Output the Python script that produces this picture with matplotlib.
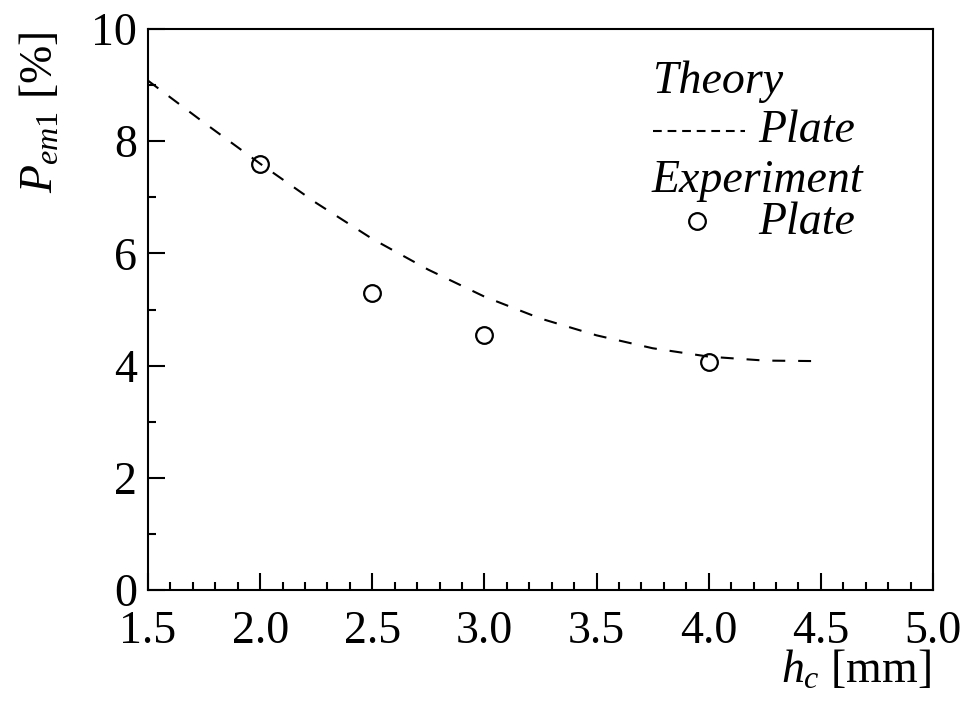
import numpy as np
import matplotlib
matplotlib.use('Agg')
import matplotlib.pyplot as plt

# Шрифти як у Times
plt.rcParams['font.family'] = ['Liberation Serif', 'DejaVu Serif']
plt.rcParams['mathtext.fontset'] = 'custom'
plt.rcParams['mathtext.rm'] = 'Liberation Serif'
plt.rcParams['mathtext.it'] = 'Liberation Serif:italic'

# Теоретична крива (пластина)
hc_theory = [1.5, 1.75, 2.0, 2.25, 2.5, 2.75, 3.0, 3.25, 3.5, 3.75, 4.0, 4.25, 4.5]
p_theory = [9.08, 8.33, 7.6, 6.9, 6.26, 5.71, 5.23, 4.84, 4.54, 4.31, 4.16, 4.09, 4.08]

# Експериментальні точки (пластина)
hc_exp = [2.0, 2.5, 3.0, 4.0]
p_exp = [7.6, 5.29, 4.55, 4.07]

xticks = [1.5, 2.0, 2.5, 3.0, 3.5, 4.0, 4.5, 5.0]
yticks = [0, 2, 4, 6, 8, 10]

fs = 33
fig = plt.figure(figsize=(9.68, 7.03), dpi=100)
ax = fig.add_axes([0.1529, 0.1607, 0.8109, 0.798])

ax.plot(hc_theory, p_theory, color='black', lw=1.5, dashes=(6.2, 6.2))
ax.plot(hc_exp, p_exp, 'o', mfc='none', mec='black', mew=1.6, ms=12)

ax.set_xlim(1.5, 5.0)
ax.set_ylim(0, 10)
ax.set_xticks(xticks)
ax.set_xticklabels([f'{v:.1f}' for v in xticks])
ax.set_yticks(yticks)
ax.set_xticks(np.arange(1.5, 5.0, 0.1), minor=True)
ax.set_yticks(np.arange(0, 10, 1), minor=True)

for s in ax.spines.values():
    s.set_linewidth(1.5)
ax.tick_params(which='both', direction='in', top=False, right=False, width=1.5)
ax.tick_params(which='major', length=12, labelsize=fs)
ax.tick_params(which='minor', length=6)
ax.tick_params(axis='x', which='major', pad=15)
ax.tick_params(axis='y', which='major', pad=8)

# Підписи осей
fig.text(0.042, 0.84, r'$P_{em1}$ [%]', rotation=90, fontsize=fs,
         ha='center', va='center')
fig.text(0.962, 0.045, r'$h_c$ [mm]', fontsize=fs, ha='right', va='center')

# Легенда вручну
t = ax.transAxes
ax.text(0.643, 0.906, 'Theory', style='italic', fontsize=fs, transform=t, va='center')
ax.plot([0.643, 0.761], [0.818, 0.818], color='black', lw=1.5, dashes=(4.2, 2.8),
        transform=t)
ax.text(0.777, 0.818, 'Plate', style='italic', fontsize=fs, transform=t, va='center')
ax.text(0.641, 0.73, 'Experiment', style='italic', fontsize=fs, transform=t, va='center')
ax.plot([0.699], [0.658], 'o', mfc='none', mec='black', mew=1.6, ms=12, transform=t)
ax.text(0.777, 0.655, 'Plate', style='italic', fontsize=fs, transform=t, va='center')

fig.savefig('out.png', dpi=100)
